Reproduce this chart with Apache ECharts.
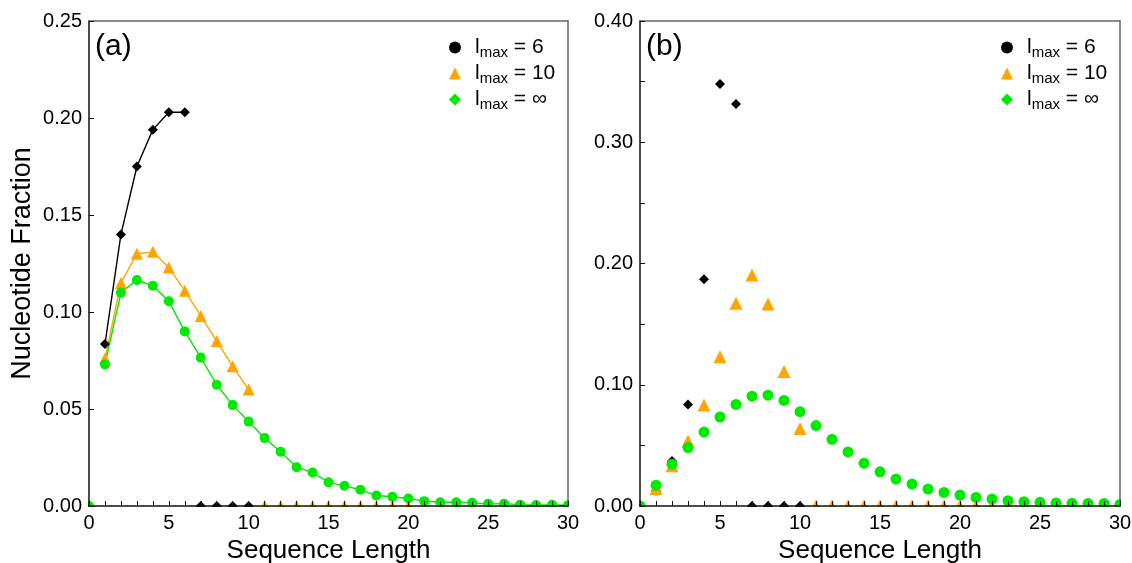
<!DOCTYPE html>
<html>
<head>
<meta charset="utf-8">
<script src="https://cdn.jsdelivr.net/npm/echarts@6/dist/echarts.min.js"></script>
<style>
html,body{margin:0;padding:0;background:#fff;}
#chart{width:1132px;height:563px;}
</style>
</head>
<body>
<div id="chart"></div>
<script>
// ---------- data ----------
// panel (a): values at sequence length 1..n
const aLmax6 = [0.0835, 0.140, 0.175, 0.194, 0.203, 0.203];
const aLmax6ZeroX = [0, 7, 8, 9, 10];
const aLmax10 = [0.076, 0.115, 0.130, 0.131, 0.123, 0.111, 0.098, 0.085, 0.072, 0.060];
const aLmax10ZeroX = [0, 11, 12, 13, 14, 15, 16, 17, 18, 19, 20, 21, 22, 23, 24, 25, 26, 27, 28, 29, 30];
const aLmaxInf = [0.073, 0.110, 0.1165, 0.1135, 0.1055, 0.090, 0.0765, 0.0625, 0.052, 0.0435,
                  0.035, 0.028, 0.020, 0.0173, 0.0122, 0.0104, 0.0084, 0.0054, 0.0048, 0.0039,
                  0.0025, 0.0019, 0.0019, 0.0017, 0.0011, 0.0012, 0.0007, 0.0005, 0.0006, 0.0004];
const aLmaxInfZeroX = [0];
// panel (b)
const bLmax6 = [0.0126, 0.0372, 0.0838, 0.187, 0.348, 0.3315];
const bLmax6ZeroX = [0, 7, 8, 9, 10];
const bLmax10 = [0.0145, 0.0331, 0.0537, 0.0832, 0.123, 0.1673, 0.1906, 0.1665, 0.111, 0.064];
const bLmax10ZeroX = [0, 11, 12, 13, 14, 15, 16, 17, 18, 19, 20, 21, 22, 23, 24, 25, 26, 27, 28, 29, 30];
const bLmaxInf = [0.0172, 0.0345, 0.0482, 0.061, 0.0734, 0.0838, 0.0906, 0.0914, 0.0871, 0.0778,
                  0.0663, 0.055, 0.0446, 0.0353, 0.0282, 0.0222, 0.0181, 0.014, 0.0112, 0.009,
                  0.0071, 0.0057, 0.0044, 0.0036, 0.003, 0.0025, 0.0022, 0.002, 0.002, 0.0013];
const bLmaxInfZeroX = [0];

const xTicks = [0, 5, 10, 15, 20, 25, 30];
const aYTicks = [0.00, 0.05, 0.10, 0.15, 0.20, 0.25];
const bYTicks = [0.00, 0.10, 0.20, 0.30, 0.40];
const panelLabels = ['(a)', '(b)'];
const legendNames = ['l6', 'l10', 'linf'];
const legendValues = {l6: '6', l10: '10', linf: '\u221e'};

// ---------- styling ----------
const FONT = '"Liberation Sans", Arial, Helvetica, sans-serif';
const BLACK = '#000000', ORANGE = '#ffa500', GREEN = '#00ea00';
const GRIDS = [
  {left: 89, top: 21, width: 479, height: 485},
  {left: 640, top: 21, width: 480, height: 485}
];

const toPairs = arr => arr.map((v, i) => [i + 1, v]);
const zeroPairs = xs => xs.map(x => [x, 0]);

function xAxes(gi) {
  return [
    {
      type: 'value', gridIndex: gi, position: 'bottom', min: 0, max: 30, interval: 5, z: 10,
      name: 'Sequence Length', nameLocation: 'middle', nameGap: 30,
      nameTextStyle: {fontFamily: FONT, fontSize: 26, color: '#000'},
      axisLine: {show: true, lineStyle: {color: '#111', width: 1.5}},
      axisTick: {show: true, inside: true, length: 5, lineStyle: {color: '#111', width: 1}},
      minorTick: {show: true, splitNumber: 5, length: 5, lineStyle: {color: '#111', width: 1}},
      axisLabel: {fontFamily: FONT, fontSize: 20, color: '#000', margin: 7,
                  formatter: v => xTicks.includes(v) ? String(v) : ''},
      splitLine: {show: false}
    },
    {
      type: 'value', gridIndex: gi, position: 'top', min: 0, max: 30, z: 10,
      axisLine: {show: true, onZero: false, lineStyle: {color: '#666', width: 1.5}},
      axisTick: {show: false}, axisLabel: {show: false}, splitLine: {show: false}
    }
  ];
}
function yAxes(gi, max, interval, ticks, withName) {
  const left = {
    type: 'value', gridIndex: gi, position: 'left', min: 0, max: max, interval: interval, z: 10,
    axisLine: {show: true, onZero: false, lineStyle: {color: '#111', width: 1.5}},
    axisTick: {show: true, inside: true, length: 5, lineStyle: {color: '#111', width: 1}},
    minorTick: {show: gi === 1, splitNumber: 2, length: 5, lineStyle: {color: '#111', width: 1}},
    axisLabel: {fontFamily: FONT, fontSize: 20, color: '#000', margin: 7,
                formatter: v => v.toFixed(2)},
    splitLine: {show: false}
  };
  if (withName) {
    left.name = 'Nucleotide Fraction';
    left.nameLocation = 'middle';
    left.nameGap = 53;
    left.nameTextStyle = {fontFamily: FONT, fontSize: 27, color: '#000'};
  }
  return [left, {
    type: 'value', gridIndex: gi, position: 'right', min: 0, max: max, z: 10,
    axisLine: {show: true, onZero: false, lineStyle: {color: '#666', width: 1.5}},
    axisTick: {show: false}, axisLabel: {show: false}, splitLine: {show: false}
  }];
}

function panelSeries(xi, yi, d6, d6z, d10, d10z, dinf, dinfz, withLines, sizes) {
  const mk = (name, type, data, symbol, size, color) => {
    const s = {
      name: name, type: type, xAxisIndex: xi, yAxisIndex: yi, data: data,
      symbol: symbol, symbolSize: size, clip: false, silent: true, animation: false,
      itemStyle: {color: color, opacity: 1}
    };
    if (type === 'line') {
      s.showSymbol = true;
      s.lineStyle = {color: color, width: 1.4};
    }
    return s;
  };
  const lt = withLines ? 'line' : 'scatter';
  return [
    mk('l6', lt, toPairs(d6), 'diamond', sizes[0], BLACK),
    mk('l6', 'scatter', zeroPairs(d6z), 'diamond', sizes[0], BLACK),
    mk('l10', lt, toPairs(d10), 'triangle', sizes[1], ORANGE),
    mk('l10', 'scatter', zeroPairs(d10z), 'triangle', sizes[1], ORANGE),
    mk('linf', lt, toPairs(dinf), 'circle', sizes[2], GREEN),
    mk('linf', 'scatter', zeroPairs(dinfz), 'circle', sizes[2], GREEN)
  ];
}

function legendFor(left) {
  return {
    orient: 'vertical', left: left, top: 37, itemWidth: 12, itemHeight: 12, itemGap: 3,
    selectedMode: false, padding: 0,
    data: [
      {name: 'l6', icon: 'circle', itemStyle: {color: BLACK}},
      {name: 'l10', icon: 'triangle', itemStyle: {color: ORANGE}},
      {name: 'linf', icon: 'diamond', itemStyle: {color: GREEN}}
    ],
    formatter: n => '{g| }{m|l}{s|max}{m| = ' + legendValues[n] + '}',
    textStyle: {
      fontFamily: FONT, color: '#000',
      rich: {
        g: {width: 9, fontSize: 12},
        m: {fontFamily: FONT, fontSize: 21, color: '#000', lineHeight: 24},
        s: {fontFamily: FONT, fontSize: 15, color: '#000', padding: [10, 0, 0, 0]}
      }
    }
  };
}

// white masks just outside each plot frame, so edge markers look clipped
const masks = [];
GRIDS.forEach(g => {
  const r = g.left + g.width, b = g.top + g.height;
  [[g.left - 12, b + 1, g.width + 24, 10],
   [g.left - 11, g.top - 12, 10, g.height + 24],
   [r + 1, g.top - 12, 10, g.height + 24],
   [g.left - 12, g.top - 11, g.width + 24, 10]].forEach(s => {
    masks.push({type: 'rect', z: 5, silent: true,
      shape: {x: s[0], y: s[1], width: s[2], height: s[3]},
      style: {fill: '#fff'}});
  });
});

const option = {
  backgroundColor: '#fff',
  animation: false,
  title: panelLabels.map((t, i) => ({
    text: t, left: GRIDS[i].left + 6, top: GRIDS[i].top + 11, padding: 0,
    textStyle: {fontFamily: FONT, fontSize: 30, fontWeight: 'normal', color: '#000'}
  })),
  grid: GRIDS.map(g => Object.assign({show: false, containLabel: false, outerBoundsMode: 'none'}, g)),
  xAxis: [...xAxes(0), ...xAxes(1)],
  yAxis: [...yAxes(0, 0.25, 0.05, aYTicks, true), ...yAxes(1, 0.40, 0.10, bYTicks, false)],
  legend: [legendFor(449), legendFor(1001)],
  graphic: {elements: masks},
  series: [
    ...panelSeries(0, 0, aLmax6, aLmax6ZeroX, aLmax10, aLmax10ZeroX, aLmaxInf, aLmaxInfZeroX, true, [10, 12, 10]),
    ...panelSeries(2, 2, bLmax6, bLmax6ZeroX, bLmax10, bLmax10ZeroX, bLmaxInf, bLmaxInfZeroX, false, [10, 13, 11])
  ]
};

const chart = echarts.init(document.getElementById('chart'), null, {renderer: 'canvas'});
chart.setOption(option);
</script>
</body>
</html>
